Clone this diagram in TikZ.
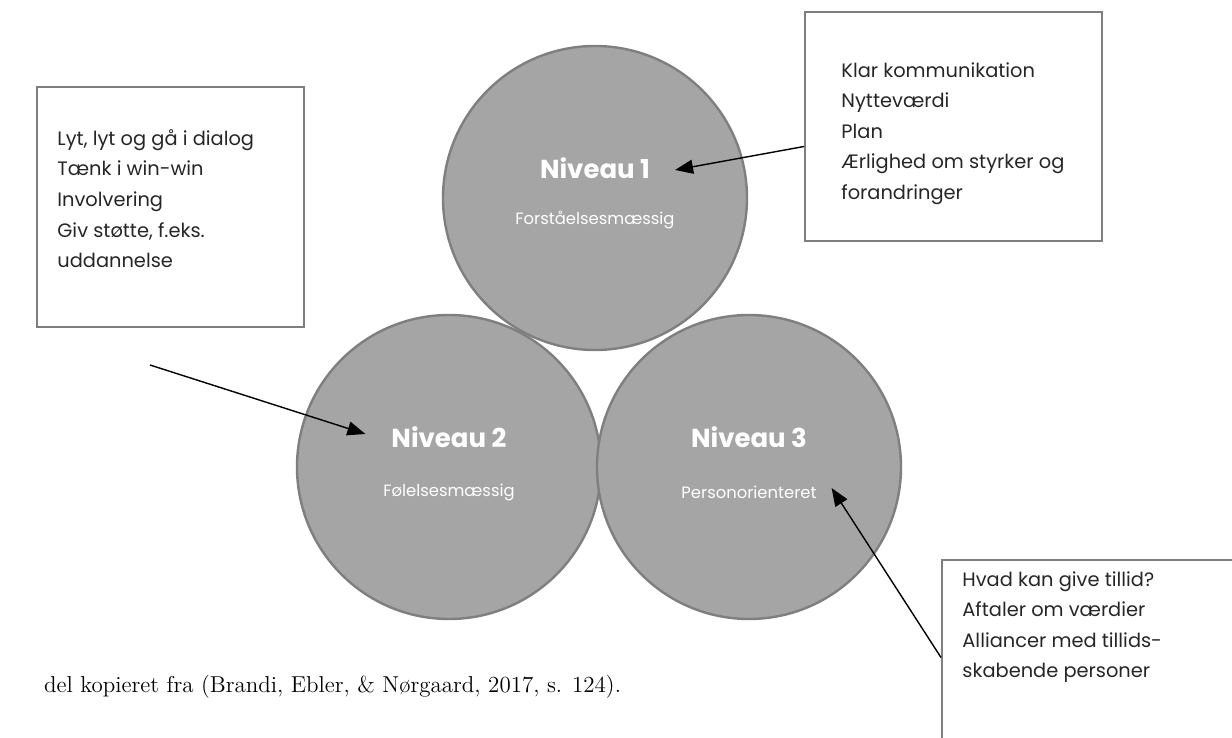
\documentclass[tikz,border=0pt]{standalone}
\usepackage{fontspec}
\newfontfamily\gothic{Poppins}
\usetikzlibrary{arrows.meta,positioning,calc}

\definecolor{sirkel}{HTML}{A5A5A5}
\definecolor{kant}{HTML}{7F7F7F}
\definecolor{tekst}{HTML}{262626}

\tikzset{
	niveau/.style={circle, draw=kant, line width=1.2pt, fill=sirkel, minimum size=152pt, inner sep=0pt},
	boks/.style={draw=kant, line width=1pt, fill=white, inner sep=0pt},
	liste/.style={text=tekst, font=\gothic\fontsize{9.7}{15.3}\selectfont, align=left, anchor=north west, inner sep=0pt},
	tittel/.style={text=white, font=\gothic\bfseries\fontsize{13}{15}\selectfont},
	under/.style={text=white, font=\gothic\fontsize{8.2}{10}\selectfont},
	pil/.style={-{Triangle[length=9pt,width=7pt]}, line width=0.7pt}
}

\begin{document}
\begin{tikzpicture}[x=0.5pt,y=-0.5pt]
		\useasboundingbox (0,0) rectangle (1232,738);
		% de tre niveauer
		\node[niveau] (c1) at (595,198) {};
		\node[niveau] (c2) at (449,467) {};
		\node[niveau] (c3) at (749,467) {};
		\node[tittel] (t1) at (595,168) {Niveau 1};
		\node[under] (u1) at (595,220) {Forståelsesmæssig};
		\node[tittel] (t2) at (449,437) {Niveau 2};
		\node[under] (u2) at (449,492) {Følelsesmæssig};
		\node[tittel] (t3) at (749,437) {Niveau 3};
		\node[under] (u3) at (749,492) {Personorienteret};
		% tekstbokse
		\node[boks, minimum width=133.5pt, minimum height=120pt] (lbox) at (170.5,207) {};
		\node[boks, minimum width=148.5pt, minimum height=114.5pt] (kbox) at (953.5,126.5) {};
		\node[boks, minimum width=149pt, minimum height=92.5pt] (hbox) at (1091,652.5) {};
		\node[liste] (ltxt) at ([shift={(21,43)}]lbox.north west)
		{Lyt, lyt og gå i dialog\\Tænk i win-win\\Involvering\\Giv støtte, f.eks.\\uddannelse};
		\node[liste] (ktxt) at ([shift={(37,51)}]kbox.north west)
		{Klar kommunikation\\Nytteværdi\\Plan\\Ærlighed om styrker og\\forandringer};
		\node[liste] (htxt) at ([shift={(21,12)}]hbox.north west)
		{Hvad kan give tillid?\\Aftaler om værdier\\Alliancer med tillids-\\skabende personer};
		% pile
		\coordinate (start2) at (150,365);
		\draw[pil] ([shift={(0,20)}]kbox.west) -- ([shift={(18,2)}]t1.east);
		\draw[pil] (start2) -- ([shift={(-19,-3)}]t2.west);
		\draw[pil] ([shift={(0,5)}]hbox.west) -- ([shift={(8,-4)}]u3.east);
		% kilde
		\node[anchor=base west, font=\fontsize{11.5}{13}\selectfont] (kilde) at (37,692)
		{del kopieret fra (Brandi, Ebler, \& Nørgaard, 2017, s. 124).};
\end{tikzpicture}
\end{document}
